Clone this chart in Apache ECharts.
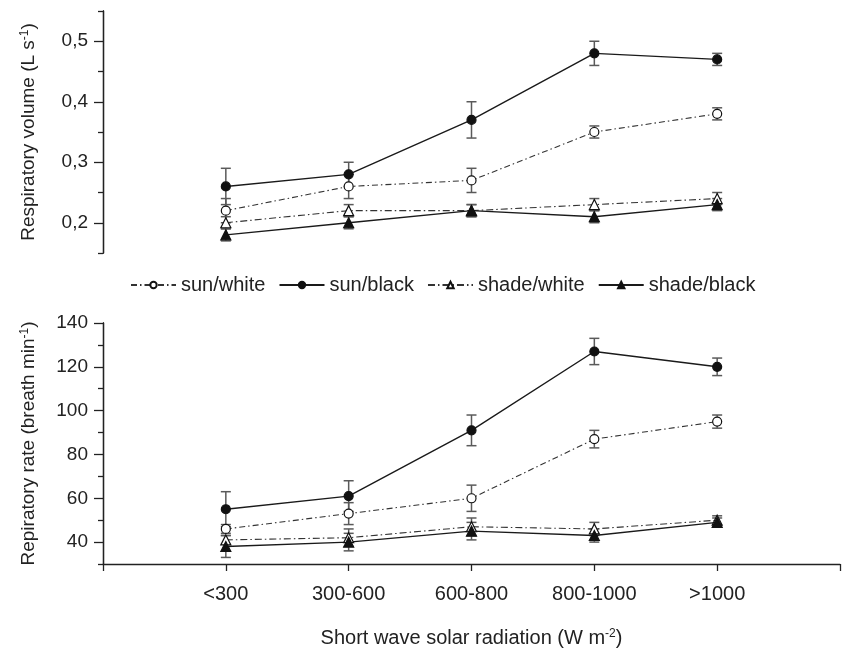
<!DOCTYPE html>
<html>
<head>
<meta charset="utf-8">
<script src="https://cdn.jsdelivr.net/npm/echarts@6/dist/echarts.min.js"></script>
<style>
  html, body { margin: 0; padding: 0; background: #fff; }
  #chart { width: 842px; height: 650px; }
</style>
</head>
<body>
<div id="chart"></div>
<script>
// Radiation classes on the shared x axis
const categories = ['<300', '300-600', '600-800', '800-1000', '>1000'];
const seriesNames = ['sun/white', 'sun/black', 'shade/white', 'shade/black'];

// Respiratory volume (L s-1): means and ± error
const volSunWhite = [0.22, 0.26, 0.27, 0.35, 0.38];
const volSunWhiteErr = [0.02, 0.02, 0.02, 0.01, 0.01];
const volSunBlack = [0.26, 0.28, 0.37, 0.48, 0.47];
const volSunBlackErr = [0.03, 0.02, 0.03, 0.02, 0.01];
const volShadeWhite = [0.20, 0.22, 0.22, 0.23, 0.24];
const volShadeWhiteErr = [0.01, 0.01, 0.01, 0.01, 0.01];
const volShadeBlack = [0.18, 0.20, 0.22, 0.21, 0.23];
const volShadeBlackErr = [0.01, 0.01, 0.01, 0.01, 0.01];

// Respiratory rate (breath min-1): means and ± error
const rateSunWhite = [46, 53, 60, 87, 95];
const rateSunWhiteErr = [2, 5, 6, 4, 3];
const rateSunBlack = [55, 61, 91, 127, 120];
const rateSunBlackErr = [8, 7, 7, 6, 4];
const rateShadeWhite = [41, 42, 47, 46, 50];
const rateShadeWhiteErr = [2, 4, 4, 3, 2];
const rateShadeBlack = [38, 40, 45, 43, 49];
const rateShadeBlackErr = [5, 4, 4, 3, 2];

// Tick positions
const volMajorTicks = [0.2, 0.3, 0.4, 0.5];
const volMinorTicks = [0.15, 0.25, 0.35, 0.45, 0.55];
const rateMajorTicks = [40, 60, 80, 100, 120, 140];
const rateMinorTicks = [30, 50, 70, 90, 110, 130];

const FONT = "'Liberation Sans', Arial, Helvetica, sans-serif";
const INK = '#222';
const BAR = '#5a5a5a';

const look = {
  'sun/white':   { symbol: 'circle',   size: 9,  fill: '#fff', width: 1.1, dash: [6, 3, 1.5, 3], color: '#333' },
  'sun/black':   { symbol: 'circle',   size: 9,  fill: '#111', width: 1.4, dash: 'solid',        color: '#1a1a1a' },
  'shade/white': { symbol: 'triangle', size: 10, fill: '#fff', width: 1.1, dash: [7, 3, 1.5, 3], color: '#333' },
  'shade/black': { symbol: 'triangle', size: 10, fill: '#111', width: 1.4, dash: 'solid',        color: '#1a1a1a' }
};

function lineSeries(name, values, gridIdx) {
  const s = look[name];
  return {
    type: 'line', name: name,
    xAxisIndex: gridIdx, yAxisIndex: gridIdx * 2,
    data: values.map((v, i) => [i + 1, v]),
    symbol: s.symbol, symbolSize: s.size, showAllSymbol: true,
    itemStyle: { color: s.fill, borderColor: '#111', borderWidth: 1.2 },
    lineStyle: { color: s.color, width: s.width, type: s.dash },
    emphasis: { disabled: true },
    z: 3, animation: false
  };
}

function errorSeries(values, errs, gridIdx) {
  return {
    type: 'custom',
    xAxisIndex: gridIdx, yAxisIndex: gridIdx * 2,
    data: values.map((v, i) => [i + 1, v - errs[i], v + errs[i]]),
    renderItem: function (params, api) {
      const lo = api.coord([api.value(0), api.value(1)]);
      const hi = api.coord([api.value(0), api.value(2)]);
      const hw = 5;
      const st = { stroke: BAR, lineWidth: 1.5 };
      return {
        type: 'group',
        children: [
          { type: 'line', shape: { x1: lo[0], y1: lo[1], x2: hi[0], y2: hi[1] }, style: st },
          { type: 'line', shape: { x1: lo[0] - hw, y1: lo[1], x2: lo[0] + hw, y2: lo[1] }, style: st },
          { type: 'line', shape: { x1: hi[0] - hw, y1: hi[1], x2: hi[0] + hw, y2: hi[1] }, style: st }
        ]
      };
    },
    silent: true, z: 1, animation: false
  };
}

function supRich(size) {
  return {
    t: { fontSize: size, fontFamily: FONT, color: INK },
    s: { fontSize: 12, fontFamily: FONT, color: INK, verticalAlign: 'top' }
  };
}

function yAxisPair(gridIdx, min, max, major, minor, fmt, name) {
  const lineStyle = { color: INK, width: 1.3 };
  return [
    {
      gridIndex: gridIdx, type: 'value', position: 'left', min: min, max: max,
      axisLine: { show: true, lineStyle: lineStyle },
      axisTick: { show: true, length: 9, customValues: major, lineStyle: lineStyle },
      axisLabel: { customValues: major, formatter: fmt, margin: 15, fontSize: 19, color: INK, fontFamily: FONT },
      splitLine: { show: false },
      name: name, nameLocation: 'middle', nameGap: 65, nameMoveOverlap: false,
      nameTextStyle: { rich: supRich(19) }
    },
    {
      gridIndex: gridIdx, type: 'value', position: 'left', offset: 0, min: min, max: max,
      axisLine: { show: true, lineStyle: lineStyle },
      axisTick: { show: true, length: 5, customValues: minor, lineStyle: lineStyle },
      axisLabel: { show: false },
      splitLine: { show: false }
    }
  ];
}

const chart = echarts.init(document.getElementById('chart'), null, { renderer: 'canvas' });

chart.setOption({
  backgroundColor: '#fff',
  animation: false,
  textStyle: { fontFamily: FONT },
  legend: {
    data: seriesNames,
    top: 270, left: 125,
    itemWidth: 45, itemHeight: 8, itemGap: 13,
    selectedMode: false,
    textStyle: { fontSize: 20, color: INK, fontFamily: FONT }
  },
  grid: [
    { left: 103, top: 11, width: 737, height: 242, outerBoundsMode: 'none', containLabel: false },
    { left: 103, top: 323, width: 737, height: 241, outerBoundsMode: 'none', containLabel: false }
  ],
  xAxis: [
    { gridIndex: 0, type: 'value', min: 0, max: 6, show: false },
    {
      gridIndex: 1, type: 'value', min: 0, max: 6, interval: 1,
      axisLine: { show: true, onZero: false, lineStyle: { color: INK, width: 1.3 } },
      axisTick: { show: true, length: 7, lineStyle: { color: INK, width: 1.3 } },
      axisLabel: {
        formatter: v => categories[v - 1] || '',
        margin: 20, fontSize: 20, color: INK, fontFamily: FONT,
        showMinLabel: true, showMaxLabel: true
      },
      splitLine: { show: false },
      name: '{t|Short wave solar radiation (W m}{s|-2}{t|)}',
      nameLocation: 'middle', nameGap: 64, nameMoveOverlap: false,
      nameTextStyle: { rich: supRich(20) }
    }
  ],
  yAxis: [].concat(
    yAxisPair(0, 0.15, 0.55, volMajorTicks, volMinorTicks,
      v => v.toFixed(1).replace('.', ','),
      '{t|Respiratory volume (L s}{s|-1}{t|)}'),
    yAxisPair(1, 30, 140, rateMajorTicks, rateMinorTicks,
      v => String(v),
      '{t|Repiratory rate (breath min}{s|-1}{t|)}')
  ),
  series: [
    errorSeries(volSunWhite, volSunWhiteErr, 0),
    errorSeries(volSunBlack, volSunBlackErr, 0),
    errorSeries(volShadeWhite, volShadeWhiteErr, 0),
    errorSeries(volShadeBlack, volShadeBlackErr, 0),
    errorSeries(rateSunWhite, rateSunWhiteErr, 1),
    errorSeries(rateSunBlack, rateSunBlackErr, 1),
    errorSeries(rateShadeWhite, rateShadeWhiteErr, 1),
    errorSeries(rateShadeBlack, rateShadeBlackErr, 1),
    lineSeries('sun/white', volSunWhite, 0),
    lineSeries('sun/black', volSunBlack, 0),
    lineSeries('shade/white', volShadeWhite, 0),
    lineSeries('shade/black', volShadeBlack, 0),
    lineSeries('sun/white', rateSunWhite, 1),
    lineSeries('sun/black', rateSunBlack, 1),
    lineSeries('shade/white', rateShadeWhite, 1),
    lineSeries('shade/black', rateShadeBlack, 1)
  ]
});
</script>
</body>
</html>
